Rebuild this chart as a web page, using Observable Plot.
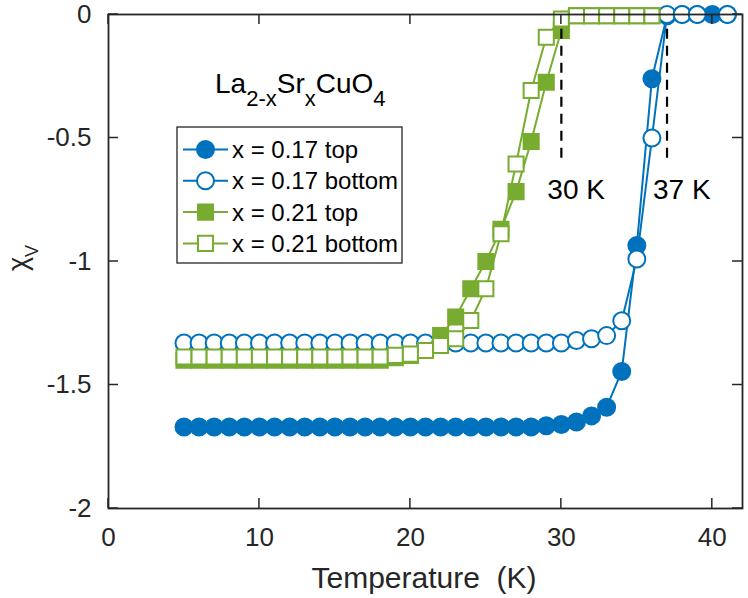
<!DOCTYPE html>
<html><head><meta charset="utf-8">
<script src="https://cdn.jsdelivr.net/npm/d3@7"></script>
<script src="https://cdn.jsdelivr.net/npm/@observablehq/plot@0.6"></script>
<style>
body{margin:0;background:#fff}
#chart{width:748px;height:598px}
</style>
</head><body><div id="chart"></div>
<script>
// ---- data ----
const temps017top = [5,6,7,8,9,10,11,12,13,14,15,16,17,18,19,20,21,22,23,24,25,26,27,28,29,30,31,32,33,34,35,36,37,38,39,40,41];
const chi017top = [-1.67,-1.67,-1.67,-1.67,-1.67,-1.67,-1.67,-1.67,-1.67,-1.67,-1.67,-1.67,-1.67,-1.67,-1.67,-1.67,-1.67,-1.67,-1.67,-1.67,-1.67,-1.67,-1.67,-1.67,-1.665,-1.66,-1.65,-1.625,-1.59,-1.445,-0.935,-0.26,-0.005,0,0,0,0];
const temps017bottom = [5,6,7,8,9,10,11,12,13,14,15,16,17,18,19,20,21,22,23,24,25,26,27,28,29,30,31,32,33,34,35,36,37,38,39,41];
const chi017bottom = [-1.33,-1.33,-1.33,-1.33,-1.33,-1.33,-1.33,-1.33,-1.33,-1.33,-1.33,-1.33,-1.33,-1.33,-1.33,-1.33,-1.33,-1.33,-1.33,-1.33,-1.33,-1.33,-1.33,-1.33,-1.33,-1.33,-1.32,-1.313,-1.30,-1.24,-0.99,-0.50,0,0,0,0];
const temps021 = [5,6,7,8,9,10,11,12,13,14,15,16,17,18,19,20,21,22,23,24,25,26,27,28,29,30,31,32,33,34,35,36];
const chi021top = [-1.40,-1.40,-1.40,-1.40,-1.40,-1.40,-1.40,-1.40,-1.40,-1.40,-1.40,-1.40,-1.40,-1.40,-1.39,-1.38,-1.36,-1.30,-1.225,-1.11,-1.00,-0.87,-0.717,-0.514,-0.274,-0.065,-0.005,-0.005,-0.005,-0.005,-0.005,-0.005];
const chi021bottom = [-1.387,-1.387,-1.387,-1.387,-1.387,-1.387,-1.387,-1.387,-1.387,-1.387,-1.387,-1.387,-1.387,-1.387,-1.38,-1.375,-1.36,-1.34,-1.313,-1.239,-1.11,-0.888,-0.605,-0.308,-0.092,-0.018,-0.005,-0.005,-0.005,-0.005,-0.005,-0.005];

const seriesNames = ["x = 0.17 top","x = 0.17 bottom","x = 0.21 top","x = 0.21 bottom"];
const seriesColors = ["#0072BD","#0072BD","#77AC30","#77AC30"];
const seriesSymbols = ["circle","circle","square","square"];
const seriesFilled = [true,false,true,false];

const xTicks = [0,10,20,30,40];
const yTicks = [0,-0.5,-1,-1.5,-2];
const tcValues = [30,37];
const dashTop = -0.06, dashBottom = -0.6, tcLabelY = -0.71;

// ---- tidy tables ----
const seriesData = [
  temps017top.map((t,i)=>({T:t, chi:chi017top[i]})),
  temps017bottom.map((t,i)=>({T:t, chi:chi017bottom[i]})),
  temps021.map((t,i)=>({T:t, chi:chi021top[i]})),
  temps021.map((t,i)=>({T:t, chi:chi021bottom[i]}))
];

const FONT = "'Liberation Sans', Arial, Helvetica, sans-serif";
const AX = "#262626";
const R = 8.5;

const marks = [];
seriesData.forEach((d,i)=>{
  marks.push(Plot.line(d, {x:"T", y:"chi", stroke:seriesColors[i], strokeWidth:2}));
  marks.push(Plot.dot(d, {x:"T", y:"chi", r:R, symbol:seriesSymbols[i],
    fill: seriesFilled[i] ? seriesColors[i] : "white", stroke:seriesColors[i], strokeWidth:2}));
});
marks.push(Plot.ruleX(tcValues, {x:d=>d, y1:dashTop, y2:dashBottom, stroke:"black", strokeWidth:2.2, strokeDasharray:"10,7"}));
marks.push(Plot.text(tcValues, {x:d=>d, y:tcLabelY, text:d=>`${d} K`, dx:-14, textAnchor:"start", fontSize:28, fill:"black"}));
marks.push(Plot.axisX({ticks:xTicks, tickSize:0, tickPadding:19, fontSize:26, fill:AX, label:null, tickFormat:d=>String(d)}));
marks.push(Plot.axisY({ticks:yTicks, tickSize:0, tickPadding:17, fontSize:26, fill:AX, label:null, tickFormat:d=>String(d)}));
marks.push(Plot.frame({stroke:AX, strokeWidth:1.8}));

const plot = Plot.plot({
  width:748, height:598,
  marginLeft:108, marginRight:6, marginTop:14, marginBottom:90,
  x:{domain:[0,42]},
  y:{domain:[-2,0]},
  style:{fontFamily:FONT, background:"white", overflow:"visible"},
  marks
});
document.getElementById("chart").appendChild(plot);

// ---- inward ticks on all four sides, through the plot's scales ----
const xs = plot.scale("x"), ys = plot.scale("y");
const svg = d3.select(plot);
const x0 = xs.apply(0), x1 = xs.apply(42), y0 = ys.apply(-2), y1 = ys.apply(0);
const tg = svg.append("g").attr("stroke", AX).attr("stroke-width", 1.5);
const TL = 10;
xTicks.forEach(v=>{
  const px = xs.apply(v);
  tg.append("line").attr("x1",px).attr("x2",px).attr("y1",y0).attr("y2",y0-TL);
  tg.append("line").attr("x1",px).attr("x2",px).attr("y1",y1).attr("y2",y1+TL);
});
yTicks.forEach(v=>{
  const py = ys.apply(v);
  tg.append("line").attr("y1",py).attr("y2",py).attr("x1",x0).attr("x2",x0+TL);
  tg.append("line").attr("y1",py).attr("y2",py).attr("x1",x1).attr("x2",x1-TL);
});

// ---- axis labels ----
svg.append("text").attr("x", 424).attr("y", 588).attr("text-anchor","middle")
  .attr("font-family", FONT).attr("font-size", 30).attr("fill", AX).text("Temperature  (K)");
const yl = svg.append("text").attr("transform","translate(27,258) rotate(-90)").attr("text-anchor","middle")
  .attr("font-family", FONT).attr("font-size", 27).attr("fill", AX);
yl.append("tspan").text("χ");
yl.append("tspan").attr("font-size", 18).attr("dy", 11).text("V");

// ---- compound name ----
const title = svg.append("text").attr("x", 215).attr("y", 93).attr("text-anchor","start")
  .attr("font-family", FONT).attr("font-size", 28).attr("fill","black");
const parts = [["La",false],["2-x",true],["Sr",false],["x",true],["CuO",false],["4",true]];
let down = false;
parts.forEach(([s,sub])=>{
  const ts = title.append("tspan").text(s);
  if (sub) { ts.attr("font-size", 22); if (!down) { ts.attr("dy", 13); down = true; } }
  else if (down) { ts.attr("dy", -13); down = false; }
});

// ---- legend ----
const lg = svg.append("g");
lg.append("rect").attr("x",177).attr("y",127).attr("width",225).attr("height",136)
  .attr("fill","white").attr("stroke",AX).attr("stroke-width",1.3);
seriesNames.forEach((name,i)=>{
  const cy = 149.5 + i*31.3;
  lg.append("line").attr("x1",183).attr("x2",228).attr("y1",cy).attr("y2",cy)
    .attr("stroke",seriesColors[i]).attr("stroke-width",2);
  const sym = d3.symbol(seriesSymbols[i]==="circle" ? d3.symbolCircle : d3.symbolSquare, R*R*Math.PI);
  lg.append("path").attr("d", sym()).attr("transform",`translate(205.5,${cy})`)
    .attr("fill", seriesFilled[i] ? seriesColors[i] : "white").attr("stroke",seriesColors[i]).attr("stroke-width",2);
  lg.append("text").attr("x",232).attr("y",cy).attr("dy","0.35em").attr("text-anchor","start")
    .attr("font-family",FONT).attr("font-size",24).attr("fill","black").text(name);
});
</script>
</body></html>
